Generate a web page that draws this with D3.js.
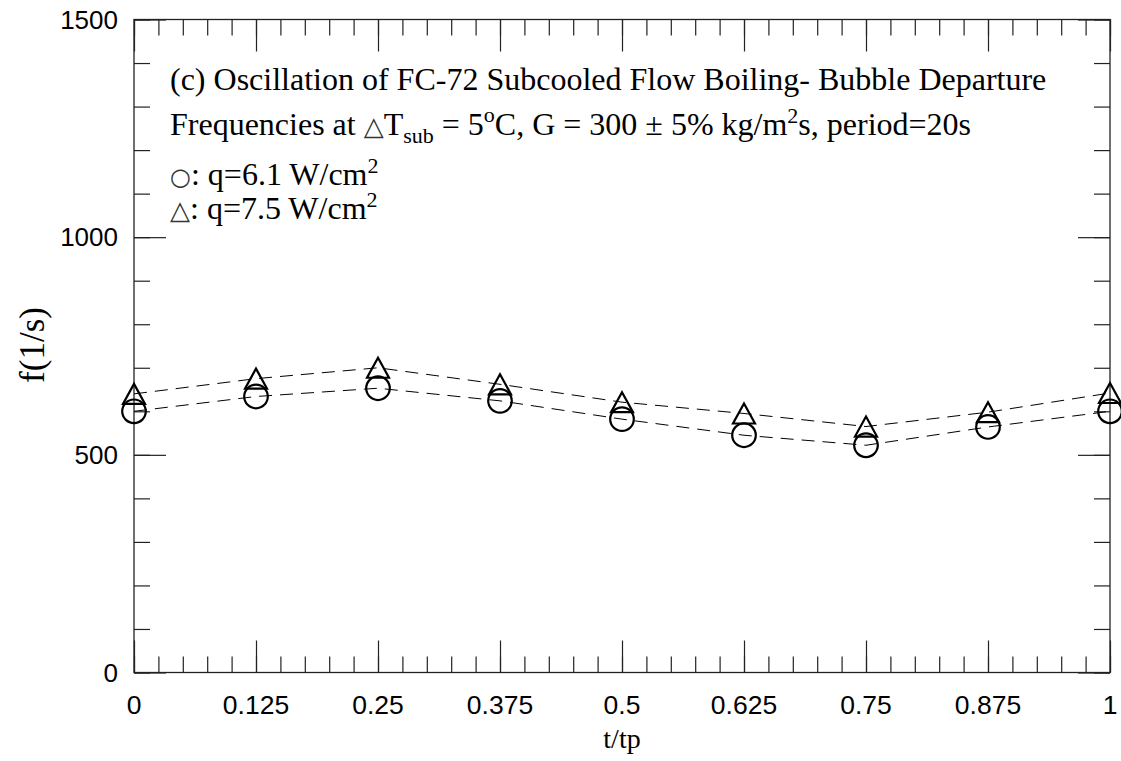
<!DOCTYPE html>
<html>
<head>
<meta charset="utf-8">
<script src="https://cdn.jsdelivr.net/npm/d3@7"></script>
<style>
  html, body { margin: 0; padding: 0; background: #fff; }
  svg { display: block; }
</style>
</head>
<body>
<svg id="chart" width="1121" height="761"></svg>
<script>
// ---- data ----
const tValues = [0, 0.125, 0.25, 0.375, 0.5, 0.625, 0.75, 0.875, 1];
const freqQ61 = [600, 634, 653, 624, 582, 545, 522, 564, 600];   // circles, q=6.1 W/cm2
const freqQ75 = [640, 675, 700, 662, 621, 595, 565, 598, 642];   // triangles, q=7.5 W/cm2
const xTickValues = [0, 0.125, 0.25, 0.375, 0.5, 0.625, 0.75, 0.875, 1];
const xTickLabels = ["0", "0.125", "0.25", "0.375", "0.5", "0.625", "0.75", "0.875", "1"];
const yTickValues = [0, 500, 1000, 1500];
const yTickLabels = ["0", "500", "1000", "1500"];

const svg = d3.select("#chart");
const L = 134, R = 1110, T = 19.5, B = 672.5;
const x = d3.scaleLinear().domain([0, 1]).range([L, R]);
const y = d3.scaleLinear().domain([0, 1500]).range([B, T]);

const serif = "'Liberation Serif', 'Times New Roman', serif";
const sans = "'Liberation Sans', Arial, sans-serif";
const sym = "'DejaVu Sans', sans-serif";

// frame
svg.append("rect").attr("x", L).attr("y", T).attr("width", R - L).attr("height", B - T)
  .attr("fill", "none").attr("stroke", "#222").attr("stroke-width", 1.3);

// ticks (inward), via axis generators
const xMinor = d3.range(0, 1.0001, 0.025).map(v => +v.toFixed(4));
const yMinor = d3.range(0, 1501, 100);
function styleTicks(g) {
  g.select(".domain").remove();
  g.selectAll("line").attr("stroke", "#222").attr("stroke-width", 1.2);
  g.selectAll("text").remove();
}
svg.append("g").attr("transform", `translate(0,${B})`)
  .call(d3.axisTop(x).tickValues(xMinor).tickSize(16)).call(styleTicks);
svg.append("g").attr("transform", `translate(0,${B})`)
  .call(d3.axisTop(x).tickValues(xTickValues).tickSize(32)).call(styleTicks);
svg.append("g").attr("transform", `translate(0,${T})`)
  .call(d3.axisBottom(x).tickValues(xMinor).tickSize(16)).call(styleTicks);
svg.append("g").attr("transform", `translate(0,${T})`)
  .call(d3.axisBottom(x).tickValues(xTickValues).tickSize(32)).call(styleTicks);
svg.append("g").attr("transform", `translate(${L},0)`)
  .call(d3.axisRight(y).tickValues(yMinor).tickSize(16)).call(styleTicks);
svg.append("g").attr("transform", `translate(${L},0)`)
  .call(d3.axisRight(y).tickValues(yTickValues).tickSize(32)).call(styleTicks);
svg.append("g").attr("transform", `translate(${R},0)`)
  .call(d3.axisLeft(y).tickValues(yMinor).tickSize(16)).call(styleTicks);
svg.append("g").attr("transform", `translate(${R},0)`)
  .call(d3.axisLeft(y).tickValues(yTickValues).tickSize(32)).call(styleTicks);

// tick labels
svg.append("g").selectAll("text").data(xTickValues).join("text")
  .attr("x", d => x(d)).attr("y", 714)
  .attr("text-anchor", "middle").attr("font-family", sans).attr("font-size", 26.5)
  .attr("fill", "#000").text((d, i) => xTickLabels[i]);
svg.append("g").selectAll("text").data(yTickValues).join("text")
  .attr("x", 118).attr("y", d => y(d) + 9)
  .attr("text-anchor", "end").attr("font-family", sans).attr("font-size", 26)
  .attr("fill", "#000").text((d, i) => yTickLabels[i]);

// axis titles
svg.append("text").attr("x", 622).attr("y", 748).attr("text-anchor", "middle")
  .attr("font-family", serif).attr("font-size", 28).text("t/tp");
svg.append("text").attr("transform", "translate(44,345) rotate(-90)").attr("text-anchor", "middle")
  .attr("font-family", serif).attr("font-size", 35).text("f(1/s)");

// dashed lines
const line = d3.line().x(d => x(d[0])).y(d => y(d[1]));
[freqQ61, freqQ75].forEach(series => {
  svg.append("path").datum(tValues.map((t, i) => [t, series[i]]))
    .attr("d", line).attr("fill", "none").attr("stroke", "#000")
    .attr("stroke-width", 1).attr("stroke-dasharray", "13,8");
});

// markers
svg.append("g").selectAll("circle").data(tValues).join("circle")
  .attr("cx", d => x(d)).attr("cy", (d, i) => y(freqQ61[i])).attr("r", 11.8)
  .attr("fill", "none").attr("stroke", "#000").attr("stroke-width", 2.2);
const triH = 20, triW = 22;
svg.append("g").selectAll("path").data(tValues).join("path")
  .attr("d", (d, i) => {
    const cx = x(d), cy = y(freqQ75[i]);
    return `M${cx},${cy - triH / 2}L${cx + triW / 2},${cy + triH / 2}L${cx - triW / 2},${cy + triH / 2}Z`;
  })
  .attr("fill", "none").attr("stroke", "#000").attr("stroke-width", 2.2).attr("stroke-linejoin", "miter");

// annotation text
const fs = 32;
const ann = svg.append("g").attr("font-family", serif).attr("font-size", fs).attr("fill", "#000");
ann.append("text").attr("x", 170).attr("y", 90)
  .text("(c) Oscillation of FC-72 Subcooled Flow Boiling- Bubble Departure");
const l2 = ann.append("text").attr("x", 170).attr("y", 135);
l2.append("tspan").text("Frequencies at ");
l2.append("tspan").attr("font-family", sym).attr("font-size", 26).attr("fill", "#333").text("△");
l2.append("tspan").text("T");
l2.append("tspan").attr("font-size", 22).attr("dy", 8).text("sub");
l2.append("tspan").attr("dy", -8).text(" = 5");
l2.append("tspan").attr("font-size", 22).attr("dy", -13).text("o");
l2.append("tspan").attr("dy", 13).text("C, G = 300 ± 5% kg/m");
l2.append("tspan").attr("font-size", 22).attr("dy", -12).text("2");
l2.append("tspan").attr("dy", 12).text("s, period=20s");

const l3 = ann.append("text").attr("x", 170).attr("y", 185);
l3.append("tspan").attr("font-family", sym).attr("font-size", 24).attr("fill", "#333").text("○");
l3.append("tspan").text(": q=6.1 W/cm");
l3.append("tspan").attr("font-size", 22).attr("dy", -12).text("2");

const l4 = ann.append("text").attr("x", 170).attr("y", 219);
l4.append("tspan").attr("font-family", sym).attr("font-size", 26).attr("fill", "#333").text("△");
l4.append("tspan").text(": q=7.5 W/cm");
l4.append("tspan").attr("font-size", 22).attr("dy", -12).text("2");
</script>
</body>
</html>
